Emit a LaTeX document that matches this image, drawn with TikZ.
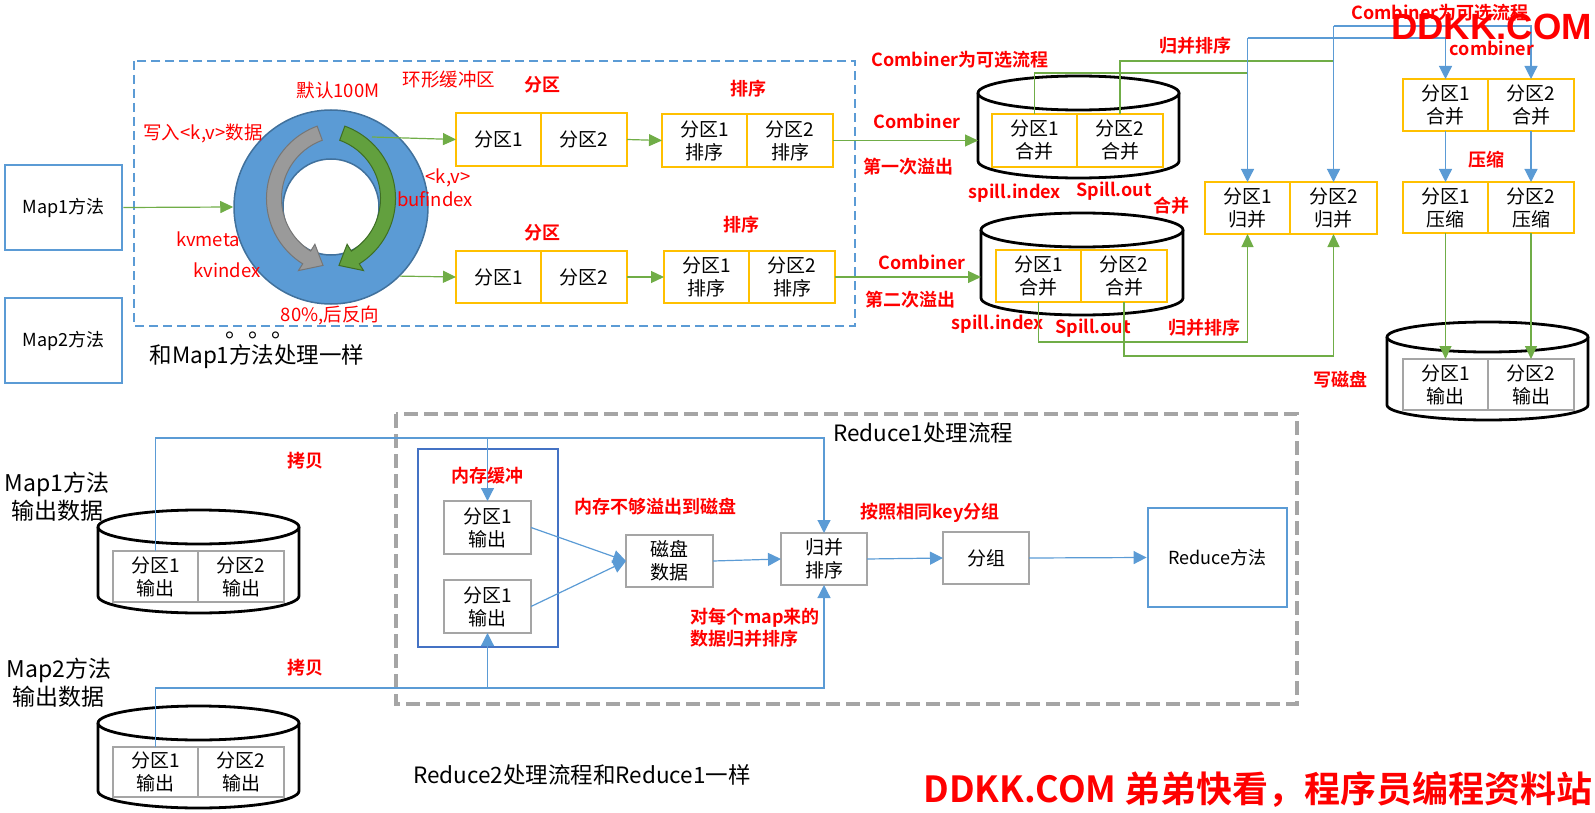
\documentclass[tikz,border=0pt]{standalone}
\usepackage{fontspec}
\setmainfont{Noto Sans CJK SC}[BoldFont={Noto Sans CJK SC Bold}]
\newfontfamily\latinbold{Liberation Sans}[BoldFont={Liberation Sans Bold}]
\usetikzlibrary{arrows.meta, positioning}

\definecolor{lineblue}{HTML}{5B9BD5}
\definecolor{memblue}{HTML}{4472C4}
\definecolor{ringblue}{HTML}{5B9BD5}
\definecolor{ringedge}{HTML}{41719C}
\definecolor{boxorange}{HTML}{FFC000}
\definecolor{boxgray}{HTML}{A5A5A5}
\definecolor{flowgreen}{HTML}{70AD47}
\definecolor{labelred}{HTML}{FF0000}
\definecolor{arrowgray}{HTML}{9A9A9A}
\definecolor{arrowgrayedge}{HTML}{767676}
\definecolor{arrowgreen}{HTML}{62A03E}
\definecolor{arrowgreenedge}{HTML}{3E6E24}

\newcommand\fsz[2]{\fontsize{#1}{#2}\selectfont}
% cylinder round an empty node: name, x radius, y radius
\newcommand\drawdisk[3]{%
  \draw[diskline] ([yshift=-#3]#1.north west) -- ([yshift=#3]#1.south west)
    arc[start angle=180, end angle=360, x radius=#2, y radius=#3] -- ([yshift=-#3]#1.north east);
  \draw[diskline] ([yshift=-#3]#1.north) ellipse[x radius=#2, y radius=#3];
}

\begin{document}
\begin{tikzpicture}[x=1pt, y=-1pt,
    every node/.style={inner sep=0pt},
    ocell/.style={draw=boxorange, line width=2.8pt, fill=white, outer sep=0pt,
      minimum width=85, minimum height=53, align=center, font=\fsz{19}{23}},
    gcell/.style={ocell, draw=boxgray},
    mapbox/.style={draw=lineblue, line width=2.8pt, minimum width=117, minimum height=85, font=\fsz{18}{22}},
    redlbl/.style={text=labelred, font=\fsz{18.5}{22}},
    redbold/.style={text=labelred, font=\bfseries\fsz{18}{22}},
    plain/.style={font=\fsz{22.5}{28}, align=center},
    diskbox/.style={minimum width=201, minimum height=102, outer sep=0pt},
    diskline/.style={draw=black, line width=2.8pt, fill=white},
    greenline/.style={draw=flowgreen, line width=1.2pt},
    greenarrow/.style={greenline, -{Triangle[length=13pt, width=12pt]}},
    blueline/.style={draw=lineblue, line width=1.2pt},
    bluearrow/.style={blueline, -{Triangle[length=13pt, width=13pt]}},
    bufzone/.style={draw=lineblue, line width=2.2pt, dash pattern=on 9pt off 5pt},
    reducezone/.style={draw=boxgray, line width=4pt, dash pattern=on 14pt off 6pt}]
  \useasboundingbox (0,0) rectangle (1595,813);

  % map side
  \node[mapbox] (map1) at (63.5,207.5) {Map1方法};
  \node[mapbox] (map2) at (63.5,340.5) {Map2方法};
  \draw[bufzone] (134,61) rectangle (855,326);

  % ring buffer
  \node[circle, draw=ringedge, fill=ringblue, line width=1.5pt, minimum size=194] (ring) at (331,207) {};
  \node[circle, draw=ringedge, fill=white, line width=1.5pt, minimum size=96] (hole) at (ring) {};
  \begin{scope}[shift={(343.5,198.5)}]
    \filldraw[fill=arrowgray, draw=arrowgrayedge, line width=1pt]
      (110:77pt) arc[start angle=110, end angle=238, radius=77pt] -- (238:85pt) -- (253:70pt)
      -- (238:54pt) -- (238:62pt) arc[start angle=238, end angle=110, radius=62pt] -- cycle;
  \end{scope}
  \begin{scope}[shift={(318.5,198.5)}]
    \filldraw[fill=arrowgreen, draw=arrowgreenedge, line width=1pt]
      (70:77pt) arc[start angle=70, end angle=-58, radius=77pt] -- (-58:85pt) -- (-73:70pt)
      -- (-58:54pt) -- (-58:62pt) arc[start angle=-58, end angle=70, radius=62pt] -- cycle;
  \end{scope}
  \coordinate (ringout) at (372,137);

  \node[redlbl] (lbldefault) at (338,90) {默认100M};
  \node[redlbl] (lblring) at (449,80) {环形缓冲区};
  \node[redlbl] (lblwrite) at (203,133) {写入<k,v>数据};
  \node[redlbl] (lblkv) at (448,178) {<k,v>};
  \node[redlbl] (lblbufidx) at (435,199) {bufindex};
  \node[redlbl] (lblkvmeta) at (208,239) {kvmeta};
  \node[redlbl] (lblkvidx) at (227,270) {kvindex};
  \node[redlbl] (lbleighty) at (330,315) {80\%,后反向};
  \node[font=\fsz{23}{23}, anchor=base west] (dots) at (225,337) {。。。};
  \node[plain] (lblsame) at (257,357) {和Map1方法处理一样};

  % partition and sort
  \node[redbold] (lblpart1) at (542,85) {分区};
  \node[redbold] (lblpart2) at (542,233) {分区};
  \node[redbold] (lblsort1) at (748,89) {排序};
  \node[redbold] (lblsort2) at (741,225) {排序};
  \node[ocell] (part1a) at (498.5,139.5) {分区1};
  \node[ocell, minimum width=86, right=0pt of part1a] (part1b) {分区2};
  \node[ocell, minimum height=52] (part2a) at (498.5,277) {分区1};
  \node[ocell, minimum width=86, minimum height=52, right=0pt of part2a] (part2b) {分区2};
  \node[ocell] (sort1a) at (704.5,140.5) {分区1\\排序};
  \node[ocell, minimum width=86, right=0pt of sort1a] (sort1b) {分区2\\排序};
  \node[ocell, minimum height=52] (sort2a) at (706.5,277) {分区1\\排序};
  \node[ocell, minimum width=86, minimum height=52, right=0pt of sort2a] (sort2b) {分区2\\排序};

  \draw[greenarrow] (map1.east) -- (ring.west);
  \draw[greenarrow] (ringout) -- (part1a.west);
  \draw[greenarrow] (ring.-45) -- (part2a.west);
  \draw[greenarrow] (part1b.east) -- (sort1a.west);
  \draw[greenarrow] (part2b.east) -- (sort2a.west);

  % spill files
  \node[diskbox] (disk1) at (1078.5,127) {};
  \drawdisk{disk1}{100.5pt}{17pt}
  \node[diskbox, minimum width=202] (disk2) at (1082,264) {};
  \drawdisk{disk2}{101pt}{17pt}
  \node[ocell] (spill1a) at (1034.5,140.5) {分区1\\合并};
  \node[ocell, minimum width=86, right=0pt of spill1a] (spill1b) {分区2\\合并};
  \node[ocell, minimum height=52] (spill2a) at (1038.5,276) {分区1\\合并};
  \node[ocell, minimum width=86, minimum height=52, right=0pt of spill2a] (spill2b) {分区2\\合并};
  \draw[greenarrow] (sort1b.east) -- (disk1.west |- sort1b.east);
  \draw[greenarrow] (sort2b.east) -- (disk2.west |- sort2b.east);

  \node[redbold] (lblopt) at (960,60) {Combiner为可选流程};
  \node[redbold] (lblcomb1) at (917,121) {Combiner};
  \node[redbold] (lblfirst) at (908,167) {第一次溢出};
  \node[redbold] (lblcomb2) at (922,262) {Combiner};
  \node[redbold] (lblsecond) at (910,300) {第二次溢出};
  \node[redbold] (lblidx1) at (1015,193) {spill.index};
  \node[redbold] (lblout1) at (1114,191) {Spill.out};
  \node[redbold] (lblmerge) at (1171,206) {合并};
  \node[redbold] (lblidx2) at (998,324) {spill.index};
  \node[redbold] (lblout2) at (1093,328) {Spill.out};
  \node[redbold] (lblms1) at (1195,46) {归并排序};
  \node[redbold] (lblms2) at (1204,328) {归并排序};

  % merge, combine, compress
  \node[ocell, minimum height=52] (mergea) at (1247.5,208) {分区1\\归并};
  \node[ocell, minimum width=87, minimum height=52, right=0pt of mergea] (mergeb) {分区2\\归并};
  \node[ocell, minimum height=52] (comba) at (1445.5,105) {分区1\\合并};
  \node[ocell, minimum width=86, minimum height=52, right=0pt of comba] (combb) {分区2\\合并};
  \node[ocell, minimum height=51] (zipa) at (1445.5,207.5) {分区1\\压缩};
  \node[ocell, minimum width=86, minimum height=51, right=0pt of zipa] (zipb) {分区2\\压缩};

  \coordinate (g1) at (1247.5,73);
  \coordinate (g2) at (1333.5,61);
  \coordinate (g3) at (1247.5,342);
  \coordinate (g4) at (1333.5,356);
  \coordinate (j1) at (1247.5,38);
  \coordinate (j2) at (1333.5,26);
  \draw[greenline] (spill1a.north) |- (g1);
  \draw[greenline] (spill1b.north) |- (g2);
  \draw[greenarrow] (spill2a.south) |- (g3) -- (mergea.south);
  \draw[greenarrow] (spill2b.south) |- (g4) -- (mergeb.south);
  \draw[bluearrow] (j1) -- (mergea.north);
  \draw[bluearrow] (j2) -- (mergeb.north);
  \draw[bluearrow] (j1) -| (comba.north);
  \draw[bluearrow] (j2) -| (combb.north);
  \draw[bluearrow] (comba.south) -- (zipa.north);
  \draw[bluearrow] (combb.south) -- (zipb.north);

  \node[redbold] (lblzip) at (1486,160) {压缩};
  \node[redbold] (lblcombiner) at (1492,48) {combiner};
  \node[redbold] (lblopt2) at (1440,13) {Combiner为可选流程};
  \node[redbold] (lbldisk) at (1340,380) {写磁盘};

  \node[diskbox, minimum height=98] (outdisk) at (1487.5,371) {};
  \drawdisk{outdisk}{100.5pt}{15pt}
  \node[gcell, minimum height=51] (outa) at (1445.5,384.5) {分区1\\输出};
  \node[gcell, minimum width=86, minimum height=51, right=0pt of outa] (outb) {分区2\\输出};
  \draw[greenarrow] (zipa.south) -- (outa.north);
  \draw[greenarrow] (zipb.south) -- (outb.north);

  % reduce side
  \draw[reducezone] (396,414) rectangle (1297,704);
  \node[plain] (r1title) at (923,433) {Reduce1处理流程};

  \node[plain, font=\fsz{23}{28}] (m1title) at (57,496.5) {Map1方法\\输出数据};
  \node[diskbox, minimum height=103] (m1disk) at (198.5,561.5) {};
  \drawdisk{m1disk}{100.5pt}{17pt}
  \node[gcell, minimum height=51] (m1outa) at (155.5,576.5) {分区1\\输出};
  \node[gcell, minimum width=86, minimum height=51, right=0pt of m1outa] (m1outb) {分区2\\输出};

  \node[plain, font=\fsz{23}{28}] (m2title) at (59,682.5) {Map2方法\\输出数据};
  \node[diskbox] (m2disk) at (198.5,757) {};
  \drawdisk{m2disk}{100.5pt}{17pt}
  \node[gcell, minimum height=50] (m2outa) at (155.5,772) {分区1\\输出};
  \node[gcell, minimum width=86, minimum height=50, right=0pt of m2outa] (m2outb) {分区2\\输出};

  \node[draw=memblue, line width=2.8pt, minimum width=140, minimum height=198] (membuf) at (488,548) {};
  \node[gcell, minimum width=87] (mem1) at (487.5,527.5) {分区1\\输出};
  \node[gcell, minimum width=87] (mem2) at (487.5,606.5) {分区1\\输出};
  \node[gcell, minimum width=87, minimum height=52] (diskdata) at (669.5,561) {磁盘\\数据};
  \node[gcell, minimum width=86, minimum height=52] (mergesort) at (824,559) {归并\\排序};
  \node[gcell, minimum width=86, minimum height=52] (grp) at (986,558) {分组};
  \node[draw=lineblue, line width=2.8pt, minimum width=139, minimum height=99, font=\fsz{18}{22}] (reduce) at (1217.5,557.5) {Reduce方法};

  \coordinate (copy1) at (487.5,438);
  \coordinate (copy2) at (487.5,688);
  \draw[blueline] (m1outa.north) |- (copy1);
  \draw[bluearrow] (copy1) -- (mem1.north);
  \draw[bluearrow] (copy1) -| (mergesort.north);
  \draw[blueline] (m2outa.north) |- (copy2);
  \draw[bluearrow] (copy2) -- (mem2.south);
  \draw[bluearrow] (copy2) -| (mergesort.south);
  \draw[bluearrow] (mem1.east) -- (diskdata.west);
  \draw[bluearrow] (mem2.east) -- (diskdata.west);
  \draw[bluearrow] (diskdata.east) -- (mergesort.west);
  \draw[bluearrow] (mergesort.east) -- (grp.west);
  \draw[bluearrow] (grp.east) -- (reduce.west);

  \node[redbold] (lblcopy1) at (305,461) {拷贝};
  \node[redbold] (lblcopy2) at (305,668) {拷贝};
  \node[redbold] (lblmem) at (487,476) {内存缓冲};
  \node[redbold] (lblspill) at (655,507) {内存不够溢出到磁盘};
  \node[redbold, align=left, anchor=west] (lbleach) at (690,627.5) {对每个map来的\\数据归并排序};
  \node[redbold] (lblgroup) at (930,513) {按照相同key分组};

  \node[plain] (r2note) at (582,775) {Reduce2处理流程和Reduce1一样};

  % watermarks
  \node[text=labelred, font=\latinbold\bfseries\fsz{36.5}{36.5}] (wmtop) at (1491.5,27) {DDKK.COM};
  \node[text=labelred, font=\bfseries\fsz{36}{36}] (wmbottom) at (1258,790) {DDKK.COM 弟弟快看，程序员编程资料站};
\end{tikzpicture}
\end{document}
